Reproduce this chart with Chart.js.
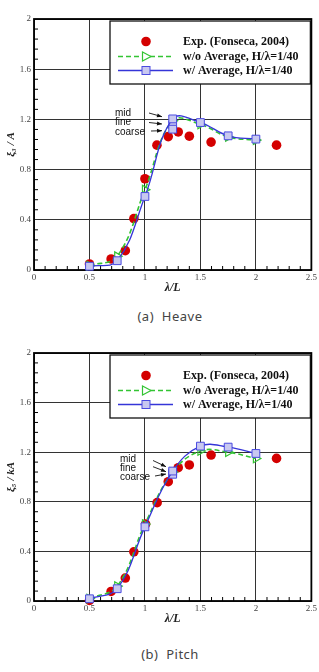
<!DOCTYPE html>
<html><head><meta charset="utf-8">
<script src="https://cdn.jsdelivr.net/npm/chart.js@4/dist/chart.umd.min.js"></script>
<style>
html,body{margin:0;padding:0;background:#fff;width:319px;height:672px;overflow:hidden}
.wrap{position:absolute;left:0;width:319px}
.cap{position:absolute;left:0;width:340px;text-align:center;font:13px "Noto Sans",sans-serif;color:#444;letter-spacing:0.5px}
</style></head><body>
<div class="wrap" style="top:0"><canvas id="c1" width="319" height="296"></canvas></div>
<div class="cap" style="top:307px">(a)&nbsp; Heave</div>
<div class="wrap" style="top:333px"><canvas id="c2" width="319" height="294"></canvas></div>
<div class="cap" style="top:645px">(b)&nbsp; Pitch</div>
<script>
// ---- data ----
const xTicks = [0, 0.5, 1, 1.5, 2, 2.5];
const yTicks = [0, 0.4, 0.8, 1.2, 1.6, 2];
const legendLabels = ['Exp. (Fonseca, 2004)', 'w/o Average, H/\u03bb=1/40', 'w/ Average, H/\u03bb=1/40'];
const gridLabels = ['mid', 'fine', 'coarse'];

// Heave
const heaveExpLambda = [0.5, 0.695, 0.823, 0.90, 1.0, 1.108, 1.21, 1.30, 1.40, 1.596, 2.186];
const heaveExp       = [0.048, 0.088, 0.154, 0.41, 0.727, 0.995, 1.063, 1.10, 1.066, 1.019, 0.995];
const cfdLambda      = [0.5, 0.75, 1.0, 1.25, 1.5, 1.75, 2.0];
const heaveNoAvg     = [0.035, 0.11, 0.64, 1.19, 1.16, 1.06, 1.035];
const heaveAvg       = [0.03, 0.074, 0.586, 1.204, 1.175, 1.069, 1.043];
const gridLambda     = [1.25, 1.25];
const heaveFineCoarse = [1.156, 1.122];

// Pitch
const pitchExpLambda = [0.5, 0.695, 0.823, 0.90, 1.006, 1.11, 1.21, 1.30, 1.40, 1.596, 2.186];
const pitchExp       = [0.005, 0.077, 0.185, 0.397, 0.62, 0.793, 0.962, 1.075, 1.097, 1.177, 1.15];
const pitchNoAvg     = [0.02, 0.12, 0.62, 1.04, 1.21, 1.20, 1.15];
const pitchAvg       = [0.018, 0.099, 0.598, 1.048, 1.249, 1.241, 1.19];
const pitchFineCoarse = [1.035, 1.022];

const RED = '#d40000', GREEN = '#33c433', BLUE = '#3535d8', SQFILL = '#c8c8f0';
const SERIF = '"Liberation Serif", "DejaVu Serif", serif';

function pts(xs, ys) { return xs.map((x, i) => ({x: x, y: ys[i]})); }

function makeDatasets(expX, expY, noAvg, avg, fc) {
  return [
    {data: pts(cfdLambda, avg), borderColor: BLUE, borderWidth: 1.3, tension: 0.4,
     pointStyle: 'rect', pointRadius: 5.5, pointBackgroundColor: SQFILL, pointBorderColor: '#4a4ae0',
     pointBorderWidth: 1, order: 0, clip: false},
    {data: pts(gridLambda, fc), showLine: false,
     pointStyle: 'rect', pointRadius: 5.5, pointBackgroundColor: SQFILL, pointBorderColor: '#4a4ae0',
     pointBorderWidth: 1, order: 0, clip: false},
    {data: pts(cfdLambda, noAvg), borderColor: GREEN, borderWidth: 1.6, borderDash: [5, 3], tension: 0.4,
     pointStyle: 'triangle', rotation: 90, pointRadius: 5, pointBackgroundColor: 'rgba(255,255,255,0)',
     pointBorderColor: GREEN, pointBorderWidth: 1.2, order: 1, clip: false},
    {data: pts(expX, expY), showLine: false, pointStyle: 'circle', pointRadius: 4.8,
     pointBackgroundColor: RED, pointBorderColor: RED, pointBorderWidth: 0, order: 2, clip: false}
  ];
}

function drawArrow(ctx, x1, y1, x2, y2) {
  ctx.beginPath(); ctx.moveTo(x1, y1); ctx.lineTo(x2, y2); ctx.stroke();
  const a = Math.atan2(y2 - y1, x2 - x1), L = 5, W = 2;
  ctx.beginPath();
  ctx.moveTo(x2, y2);
  ctx.lineTo(x2 - L * Math.cos(a) + W * Math.sin(a), y2 - L * Math.sin(a) - W * Math.cos(a));
  ctx.lineTo(x2 - L * Math.cos(a) - W * Math.sin(a), y2 - L * Math.sin(a) + W * Math.cos(a));
  ctx.closePath(); ctx.fill();
}

function framePlugin() {
  return {
    id: 'frame',
    beforeDatasetsDraw(chart) {
      const {ctx, chartArea: ca, scales} = chart;
      ctx.save();
      ctx.strokeStyle = '#000'; ctx.lineWidth = 1;
      for (let i = 1; i < 25; i++) {
        if (i % 5 === 0) continue;
        const px = scales.x.getPixelForValue(i / 10);
        ctx.beginPath(); ctx.moveTo(px, ca.bottom); ctx.lineTo(px, ca.bottom - 4); ctx.stroke();
      }
      for (let i = 1; i < 25; i++) {
        if (i % 5 === 0) continue;
        const py = scales.y.getPixelForValue(i * 0.08);
        ctx.beginPath(); ctx.moveTo(ca.left, py); ctx.lineTo(ca.left + 4, py); ctx.stroke();
      }
      ctx.lineWidth = 1.8;
      ctx.strokeRect(ca.left, ca.top, ca.right - ca.left, ca.bottom - ca.top);
      ctx.restore();
    }
  };
}

function overlayPlugin(ann) {
  return {
    id: 'overlay',
    afterDraw(chart) {
      const {ctx, chartArea: ca} = chart;
      ctx.save();
      const x0 = 110, y0 = ca.top + 2, w = ca.right - 1 - x0, h = 63;
      ctx.fillStyle = '#fff'; ctx.fillRect(x0, y0, w, h);
      ctx.strokeStyle = '#111'; ctx.lineWidth = 1.3; ctx.strokeRect(x0, y0, w, h);
      const rows = [y0 + 20.5, y0 + 35.5, y0 + 49.5];
      const mx = x0 + 36, lx1 = x0 + 8, lx2 = x0 + 63;
      ctx.fillStyle = RED; ctx.beginPath(); ctx.arc(mx, rows[0], 4.8, 0, Math.PI * 2); ctx.fill();
      ctx.strokeStyle = GREEN; ctx.lineWidth = 1.6; ctx.setLineDash([5, 3]);
      ctx.beginPath(); ctx.moveTo(lx1, rows[1]); ctx.lineTo(lx2, rows[1]); ctx.stroke();
      ctx.setLineDash([]);
      ctx.fillStyle = '#fff'; ctx.lineWidth = 1.2;
      ctx.beginPath(); ctx.moveTo(mx + 5, rows[1]); ctx.lineTo(mx - 3.5, rows[1] - 4.5); ctx.lineTo(mx - 3.5, rows[1] + 4.5); ctx.closePath();
      ctx.fill(); ctx.stroke();
      ctx.strokeStyle = BLUE; ctx.lineWidth = 1.3;
      ctx.beginPath(); ctx.moveTo(lx1, rows[2]); ctx.lineTo(lx2, rows[2]); ctx.stroke();
      ctx.fillStyle = SQFILL; ctx.strokeStyle = '#4a4ae0'; ctx.lineWidth = 1;
      ctx.fillRect(mx - 4, rows[2] - 4, 8, 8); ctx.strokeRect(mx - 4, rows[2] - 4, 8, 8);
      ctx.fillStyle = '#111'; ctx.font = 'bold 12px ' + SERIF; ctx.textBaseline = 'middle'; ctx.textAlign = 'left';
      legendLabels.forEach((t, i) => ctx.fillText(t, x0 + 73, rows[i] + 0.5));
      ctx.font = '10px "Liberation Sans", Arial, sans-serif'; ctx.fillStyle = '#111';
      gridLabels.forEach((t, i) => ctx.fillText(t, ann.tx, ann.ty[i]));
      ctx.strokeStyle = '#111'; ctx.lineWidth = 0.9;
      ann.arrows.forEach(a => drawArrow(ctx, a[0], a[1], a[2], a[3]));
      ctx.restore();
    }
  };
}

function makeChart(id, datasets, yTitle, padTop, ann) {
  return new Chart(document.getElementById(id), {
    type: 'line',
    data: {datasets: datasets},
    options: {
      responsive: false, animation: false, events: [],
      layout: {padding: {top: padTop, right: 7, left: 0, bottom: 0}},
      plugins: {legend: {display: false}, tooltip: {enabled: false}},
      scales: {
        x: {type: 'linear', min: 0, max: 2.5,
          afterBuildTicks: s => { s.ticks = xTicks.map(v => ({value: v})); },
          afterFit: s => { s.height = 26; },
          grid: {color: '#333', lineWidth: 1, drawTicks: false},
          border: {display: false},
          ticks: {padding: 2, font: {family: SERIF, size: 9}, color: '#444', maxRotation: 0, autoSkip: false,
                  callback: v => String(v)},
          title: {display: true, text: '\u03bb/L', color: '#222',
                  font: {family: SERIF, size: 12, style: 'italic', weight: 'bold'}, padding: {top: 0, bottom: 1}}
        },
        y: {type: 'linear', min: 0, max: 2,
          afterBuildTicks: s => { s.ticks = yTicks.map(v => ({value: v})); },
          afterFit: s => { s.width = 34; },
          grid: {color: '#333', lineWidth: 1, drawTicks: false},
          border: {display: false},
          ticks: {padding: 3, font: {family: SERIF, size: 9}, color: '#444', callback: v => String(v)},
          title: {display: true, text: yTitle, color: '#222',
                  font: {family: SERIF, size: 11, style: 'italic', weight: 'bold'}, padding: {top: 5, bottom: 0}}
        }
      }
    },
    plugins: [framePlugin(), overlayPlugin(ann)]
  });
}

makeChart('c1', makeDatasets(heaveExpLambda, heaveExp, heaveNoAvg, heaveAvg, heaveFineCoarse), '\u03be\u2083 / A', 19,
  {tx: 115, ty: [113.5, 122.7, 132],
   arrows: [[149, 113, 162, 116.7], [149, 122.5, 162, 124], [151, 131, 162, 130.7]]});
makeChart('c2', makeDatasets(pitchExpLambda, pitchExp, pitchNoAvg, pitchAvg, pitchFineCoarse), '\u03be\u2085 / kA', 20,
  {tx: 120, ty: [126.3, 135.5, 144.7],
   arrows: [[153, 127.5, 166, 133.7], [153, 133.7, 166, 138.7], [155, 143, 166, 141]]});
</script>
</body></html>
